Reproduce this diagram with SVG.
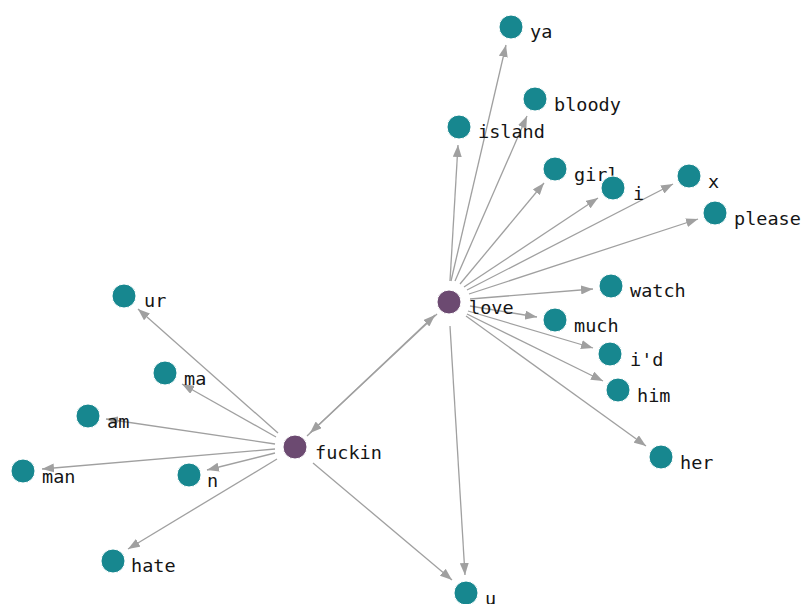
<svg xmlns="http://www.w3.org/2000/svg" width="805" height="604" viewBox="0 0 805 604">
  <style>
    .edge { stroke: #a0a0a0; stroke-width: 1.3; fill: none; marker-end: url(#arrow); }
    .word circle { fill: #17878f; stroke: #ffffff; stroke-width: 1; }
    .hub circle { fill: #6c4a71; stroke: #ffffff; stroke-width: 1; }
    text { font-family: "DejaVu Sans Mono", "Liberation Mono", monospace; font-size: 18.5px; fill: #151515; }
  </style>
  <defs>
    <marker id="arrow" markerUnits="userSpaceOnUse" markerWidth="12" markerHeight="9" refX="12" refY="4.5" orient="auto">
      <path d="M0,0 L12,4.5 L0,9 z" fill="#a0a0a0"/>
    </marker>
  </defs>
  <rect width="805" height="604" fill="#ffffff"/>

  <g id="connectors">
    <!-- hub to hub, both directions -->
    <line class="edge" x1="307" y1="436" x2="435" y2="315"/>
    <line class="edge" x1="437" y1="314" x2="310" y2="433"/>
    <!-- love -->
    <line class="edge" x1="451" y1="281" x2="506" y2="45"/>
    <line class="edge" x1="455" y1="281" x2="527" y2="116"/>
    <line class="edge" x1="450" y1="281" x2="458" y2="145"/>
    <line class="edge" x1="460" y1="284" x2="544" y2="183"/>
    <line class="edge" x1="464" y1="287" x2="598" y2="198"/>
    <line class="edge" x1="467" y1="290" x2="673" y2="184"/>
    <line class="edge" x1="469" y1="294" x2="698" y2="219"/>
    <line class="edge" x1="470" y1="299" x2="593" y2="289"/>
    <line class="edge" x1="470" y1="306" x2="537" y2="317"/>
    <line class="edge" x1="468" y1="311" x2="593" y2="348"/>
    <line class="edge" x1="467" y1="314" x2="603" y2="381"/>
    <line class="edge" x1="466" y1="316" x2="646" y2="446"/>
    <line class="edge" x1="450" y1="326" x2="465" y2="575"/>
    <!-- fuckin -->
    <line class="edge" x1="278" y1="433" x2="138" y2="309"/>
    <line class="edge" x1="276" y1="437" x2="182" y2="384"/>
    <line class="edge" x1="275" y1="444" x2="106" y2="419"/>
    <line class="edge" x1="275" y1="449" x2="42" y2="469"/>
    <line class="edge" x1="275" y1="453" x2="207" y2="470"/>
    <line class="edge" x1="277" y1="459" x2="128" y2="549"/>
    <line class="edge" x1="313" y1="463" x2="452" y2="580"/>
  </g>

  <g id="node-love" class="hub"><circle cx="449" cy="302" r="12"/><text x="469" y="314">love</text></g>
  <g id="node-fuckin" class="hub"><circle cx="295" cy="447" r="12"/><text x="315" y="459">fuckin</text></g>

  <g id="node-ya" class="word"><circle cx="511" cy="27" r="12"/><text x="530" y="38">ya</text></g>
  <g id="node-bloody" class="word"><circle cx="535" cy="99" r="12"/><text x="554" y="111">bloody</text></g>
  <g id="node-island" class="word"><circle cx="459" cy="127" r="12"/><text x="478" y="138">island</text></g>
  <g id="node-girl" class="word"><circle cx="555" cy="169" r="12"/><text x="574" y="181">girl</text></g>
  <g id="node-i" class="word"><circle cx="613" cy="188" r="12"/><text x="633" y="200">i</text></g>
  <g id="node-x" class="word"><circle cx="689" cy="176" r="12"/><text x="708" y="188">x</text></g>
  <g id="node-please" class="word"><circle cx="715" cy="213" r="12"/><text x="734" y="225">please</text></g>
  <g id="node-watch" class="word"><circle cx="611" cy="286" r="12"/><text x="630" y="297">watch</text></g>
  <g id="node-much" class="word"><circle cx="555" cy="320" r="12"/><text x="574" y="332">much</text></g>
  <g id="node-id" class="word"><circle cx="610" cy="354" r="12"/><text x="630" y="366">i'd</text></g>
  <g id="node-him" class="word"><circle cx="618" cy="390" r="12"/><text x="637" y="402">him</text></g>
  <g id="node-her" class="word"><circle cx="661" cy="457" r="12"/><text x="680" y="469">her</text></g>
  <g id="node-u" class="word"><circle cx="466" cy="593" r="12"/><text x="485" y="605">u</text></g>

  <g id="node-ur" class="word"><circle cx="124" cy="296" r="12"/><text x="144" y="307">ur</text></g>
  <g id="node-ma" class="word"><circle cx="165" cy="373" r="12"/><text x="184" y="385">ma</text></g>
  <g id="node-am" class="word"><circle cx="88" cy="416" r="12"/><text x="107" y="428">am</text></g>
  <g id="node-man" class="word"><circle cx="23" cy="471" r="12"/><text x="42" y="483">man</text></g>
  <g id="node-n" class="word"><circle cx="189" cy="475" r="12"/><text x="207" y="487">n</text></g>
  <g id="node-hate" class="word"><circle cx="113" cy="561" r="12"/><text x="131" y="572">hate</text></g>
</svg>
